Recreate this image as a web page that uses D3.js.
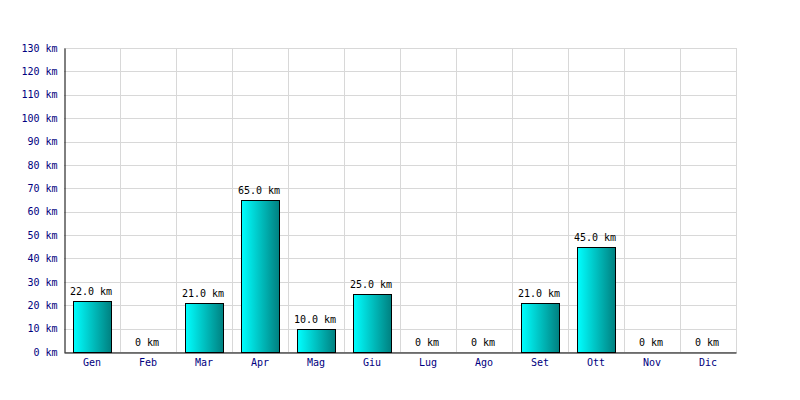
<!DOCTYPE html>
<html><head><meta charset="utf-8">
<script src="https://cdn.jsdelivr.net/npm/d3@7"></script>
<style>body{margin:0;background:#fff}svg{display:block}</style>
</head><body>
<svg id="c" width="800" height="400"></svg>
<script>
const months = ["Gen","Feb","Mar","Apr","Mag","Giu","Lug","Ago","Set","Ott","Nov","Dic"];
const km = [22,0,21,65,10,25,0,0,21,45,0,0];
const yTicks = [0,10,20,30,40,50,60,70,80,90,100,110,120,130];

const svg = d3.select("#c");
const m = {l:64, r:736, t:48, b:352};
const font = "'DejaVu Sans Mono', monospace";
const x = d3.scaleBand().domain(months).range([m.l, m.r]).paddingInner(0).paddingOuter(0);
const y = d3.scaleLinear().domain([0,130]).range([m.b, m.t]);

const defs = svg.append("defs");
const g = defs.append("linearGradient").attr("id","bg").attr("x1","0").attr("x2","1").attr("y1","0").attr("y2","0");
g.append("stop").attr("offset","0%").attr("stop-color","#00ffff");
g.append("stop").attr("offset","100%").attr("stop-color","#008080");

// grid
svg.append("g").selectAll("line").data(yTicks).join("line")
  .attr("x1", m.l).attr("x2", m.r+1)
  .attr("y1", d=>Math.round(y(d))+0.5).attr("y2", d=>Math.round(y(d))+0.5)
  .attr("stroke","#d8d8d8").attr("stroke-width",1);
svg.append("g").selectAll("line").data(months).join("line")
  .attr("x1", d=>Math.round(x(d)+x.bandwidth())+0.5).attr("x2", d=>Math.round(x(d)+x.bandwidth())+0.5)
  .attr("y1", m.t).attr("y2", m.b)
  .attr("stroke","#d8d8d8").attr("stroke-width",1);

// bars
const bw = x.bandwidth()*0.68;
svg.append("g").selectAll("rect").data(months.map((mo,i)=>({mo, v:km[i]})).filter(d=>d.v>0)).join("rect")
  .attr("x", d=>Math.round(x(d.mo)+(x.bandwidth()-bw)/2)+0.5)
  .attr("y", d=>Math.round(y(d.v))+0.5)
  .attr("width", Math.round(bw))
  .attr("height", d=>Math.round(y(0))-Math.round(y(d.v)))
  .attr("fill","url(#bg)").attr("stroke","#000").attr("stroke-width",1);

// value labels
svg.append("g").selectAll("text").data(months.map((mo,i)=>({mo, v:km[i]}))).join("text")
  .attr("x", d=>x(d.mo)+x.bandwidth()/2-1)
  .attr("y", d=>y(d.v)-6)
  .attr("text-anchor","middle")
  .attr("font-family",font).attr("font-size",10).attr("fill","#000")
  .text(d=>d.v>0 ? d.v.toFixed(1)+" km" : "0 km");

// axes
const yAxis = d3.axisLeft(y).tickValues(yTicks).tickSize(0).tickPadding(7).tickFormat(d=>d+" km");
const ya = svg.append("g").attr("transform",`translate(${m.l+0.5},0)`).call(yAxis);
ya.select(".domain").attr("stroke","#000");
ya.selectAll("text").attr("font-family",font).attr("font-size",10).attr("fill","#000080");

const xAxis = d3.axisBottom(x).tickSize(0).tickPadding(6);
const xa = svg.append("g").attr("transform",`translate(0,${m.b+0.5})`).call(xAxis);
xa.select(".domain").attr("stroke","#000");
xa.selectAll("text").attr("font-family",font).attr("font-size",10).attr("fill","#000080");
</script>
</body></html>
